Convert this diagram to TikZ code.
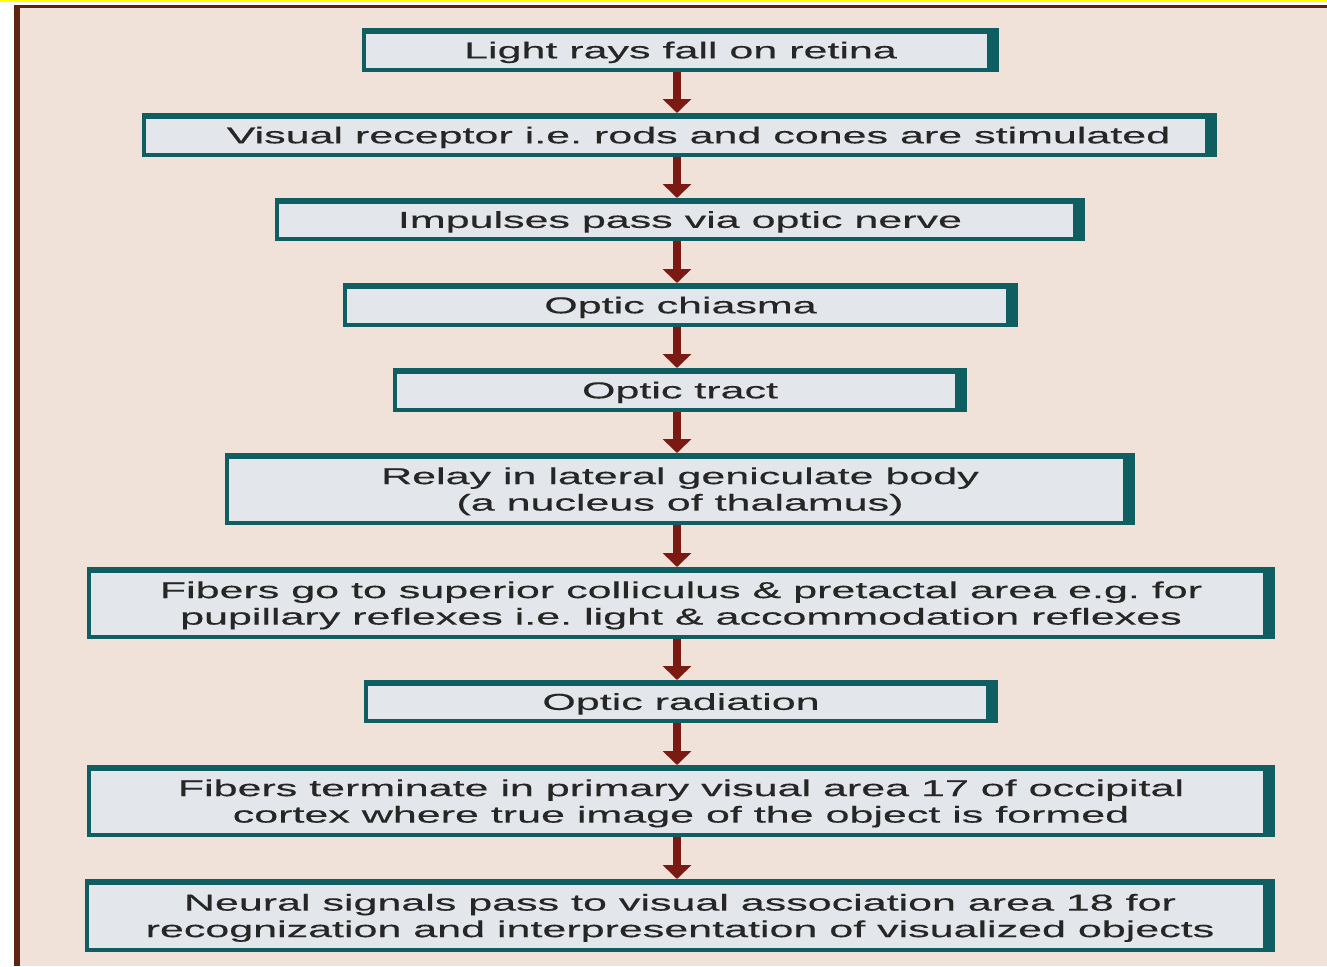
\documentclass[tikz,border=0pt]{standalone}
\usepackage{fontspec}
\setmainfont{Liberation Sans}[FakeStretch=1.87,FakeBold=0.35]
\frenchspacing
\usetikzlibrary{arrows.meta}
\definecolor{pagebg}{HTML}{F0E2D9}
\definecolor{boxfill}{HTML}{E3E6EA}
\definecolor{boxedge}{HTML}{0F5F62}
\definecolor{arrowred}{HTML}{7A1A12}
\definecolor{txt}{HTML}{262626}
\definecolor{rimbrown}{HTML}{5E2410}
\definecolor{rimyellow}{HTML}{FFFF00}
\begin{document}
\begin{tikzpicture}[x=1pt,y=-1pt,
  flowbox/.style={rectangle, fill=boxedge, inner sep=0pt, outer sep=0pt,
    text=txt, font=\fontsize{23}{26.5}\selectfont, align=center, text depth=0pt,
    path picture={\fill[boxfill]
      ([xshift=4pt,yshift=-6pt]path picture bounding box.north west) rectangle
      ([xshift=-12pt,yshift=4pt]path picture bounding box.south east);}},
  flow/.style={draw=arrowred, line width=8pt, -{Triangle[width=28pt,length=14pt]}}]
\useasboundingbox (0,0) rectangle (1327,966);
% page frame
\fill[white] (0,0) rectangle (1327,966);
\fill[rimyellow] (0,0) rectangle (1327,2);
\fill[rimbrown] (14,5) rectangle (1327,8.5);
\fill[rimbrown] (14,5) rectangle (20,966);
\fill[pagebg] (20,8.5) rectangle (1327,966);
% flow steps
\node[flowbox, minimum width=637pt, minimum height=44pt] (b1) at (680.5,50) {Light rays fall on retina};
\node[flowbox, minimum width=1075pt, minimum height=44pt] (b2) at (679.5,135) {\hspace*{38pt}Visual receptor i.e. rods and cones are stimulated};
\node[flowbox, minimum width=810pt, minimum height=43pt] (b3) at (680,219.5) {Impulses pass via optic nerve};
\node[flowbox, minimum width=675pt, minimum height=44pt] (b4) at (680.5,305) {Optic chiasma};
\node[flowbox, minimum width=574pt, minimum height=44pt] (b5) at (680,390) {Optic tract};
\node[flowbox, minimum width=910pt, minimum height=72pt] (b6) at (680,489) {Relay in lateral geniculate body\\(a nucleus of thalamus)};
\node[flowbox, minimum width=1188pt, minimum height=72pt] (b7) at (681,603) {Fibers go to superior colliculus \& pretactal area e.g. for\\pupillary reflexes i.e. light \& accommodation reflexes};
\node[flowbox, minimum width=634pt, minimum height=43pt] (b8) at (681,701.5) {Optic radiation};
\node[flowbox, minimum width=1188pt, minimum height=72pt] (b9) at (681,801) {Fibers terminate in primary visual area 17 of occipital\\cortex where true image of the object is formed};
\node[flowbox, minimum width=1190pt, minimum height=73pt] (b10) at (680,915.5) {Neural signals pass to visual association area 18 for\\recognization and interpresentation of visualized objects};
% connectors
\coordinate (ax) at (677,0);
\foreach \a/\b in {b1/b2,b2/b3,b3/b4,b4/b5,b5/b6,b6/b7,b7/b8,b8/b9,b9/b10}
  \draw[flow] (\a.south -| ax) -- (\b.north -| ax);
\end{tikzpicture}
\end{document}
